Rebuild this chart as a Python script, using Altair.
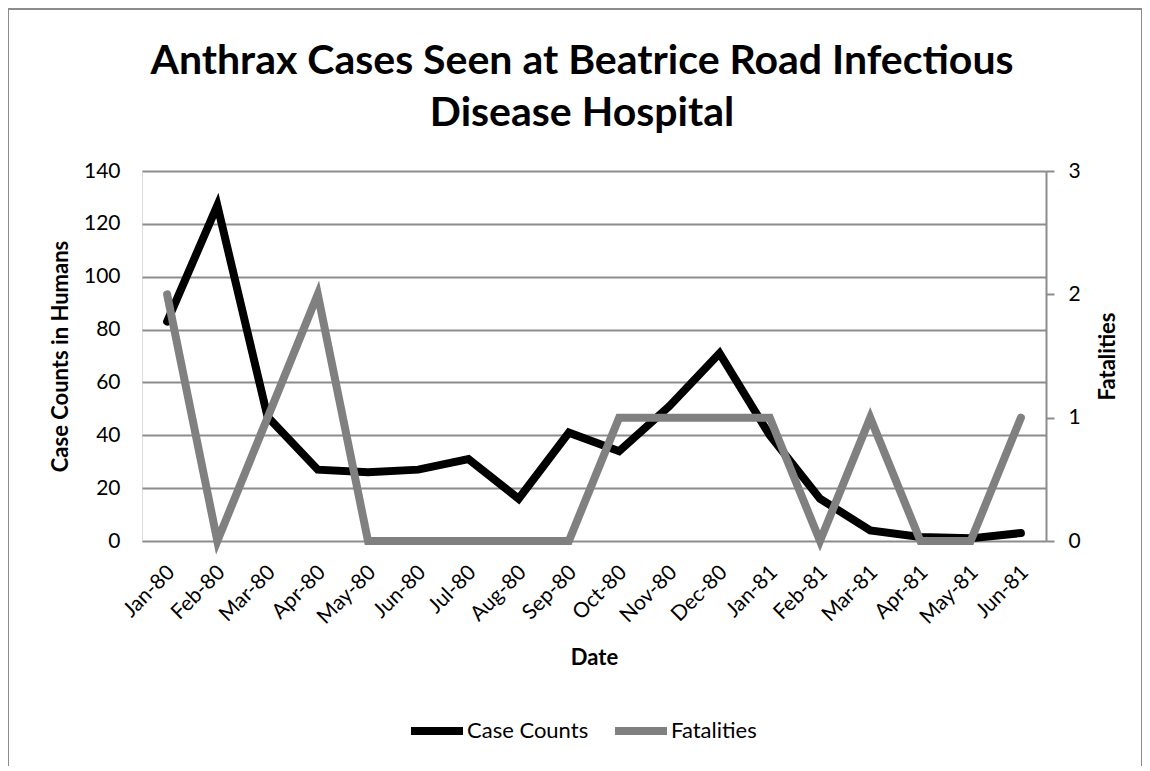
import altair as alt
import pandas as pd

months = ["Jan-80", "Feb-80", "Mar-80", "Apr-80", "May-80", "Jun-80", "Jul-80", "Aug-80",
          "Sep-80", "Oct-80", "Nov-80", "Dec-80", "Jan-81", "Feb-81", "Mar-81", "Apr-81",
          "May-81", "Jun-81"]
case_counts = [83, 127, 47, 27, 26, 27, 31, 16, 41, 34, 51, 71, 40, 16, 4, 1.5, 1, 3]
fatalities = [2, 0, 1, 2, 0, 0, 0, 0, 0, 1, 1, 1, 1, 0, 1, 0, 0, 1]

df = pd.DataFrame({"Date": months, "Cases": case_counts, "Fatal": fatalities})

FONT = "Lato"
GRID = "#8c8c8c"

x_enc = alt.X("Date:N", sort=months,
              scale=alt.Scale(type="point", padding=0.5),
              axis=alt.Axis(title="Date", labelAngle=-45, labelAlign="right",
                            labelBaseline="middle", labelPadding=28, labelOffset=4,
                            labelFontSize=21, labelFont=FONT, labelColor="black",
                            domain=False, ticks=False,
                            titleFont=FONT, titleFontSize=22, titleFontWeight="bold",
                            titlePadding=20, titleColor="black"))

color_scale = alt.Scale(domain=["Case Counts", "Fatalities"], range=["#000000", "#808080"])
legend = alt.Legend(title=None, orient="none", legendX=265, legendY=530, direction="horizontal",
                    symbolType="stroke", symbolStrokeWidth=8, symbolSize=2704,
                    labelFontSize=22, labelFont=FONT, labelColor="black", labelOffset=0,
                    columnPadding=10)

frame = alt.Chart(pd.DataFrame({"a": [0]})).mark_rect(
    fillOpacity=0, stroke=GRID, strokeWidth=2
).encode(x=alt.value(-134), x2=alt.value(1000), y=alt.value(-162), y2=alt.value(800))

cases_line = alt.Chart(df).transform_calculate(series="'Case Counts'").mark_line(
    strokeWidth=8, strokeCap="round").encode(
    x=x_enc,
    y=alt.Y("Cases:Q", scale=alt.Scale(domain=[0, 140]),
            axis=alt.Axis(title="Case Counts in Humans", values=list(range(0, 141, 20)),
                          grid=True, gridColor=GRID, gridWidth=2, domain=False, ticks=False,
                          labelFontSize=21, labelFont=FONT, labelColor="black", labelPadding=22,
                          titleFont=FONT, titleFontSize=22, titleFontWeight="bold",
                          titleColor="black", titlePadding=11)),
    color=alt.Color("series:N", scale=color_scale, legend=legend),
)

fatal_line = alt.Chart(df).transform_calculate(series="'Fatalities'").mark_line(
    strokeWidth=8, strokeCap="round").encode(
    x=x_enc,
    y=alt.Y("Fatal:Q", scale=alt.Scale(domain=[0, 3]),
            axis=alt.Axis(orient="right", title="Fatalities", values=[0, 1, 2, 3], grid=False,
                          domain=True, domainColor=GRID, domainWidth=2, ticks=True,
                          tickColor=GRID, tickWidth=2, tickSize=8,
                          labelFontSize=21, labelFont=FONT, labelColor="black", labelPadding=14,
                          titleFont=FONT, titleFontSize=22, titleFontWeight="bold",
                          titleColor="black", titleAngle=270, titlePadding=39)),
    color=alt.Color("series:N", scale=color_scale, legend=legend),
)

chart = alt.layer(frame, cases_line, fatal_line).resolve_scale(y="independent").properties(
    width=904, height=370,
    autosize=alt.AutoSizeParams(type="none"),
    padding={"left": 134, "top": 163, "right": 96, "bottom": 225},
    title=alt.TitleParams(["Anthrax Cases Seen at Beatrice Road Infectious", "Disease Hospital"],
                          fontSize=41, font=FONT, fontWeight="bold", color="black",
                          anchor="middle", lineHeight=52, offset=-127, dx=-12),
).configure_view(stroke=None).configure(background="white")

chart.save("out.html", embed_options={"renderer": "svg", "actions": False})
